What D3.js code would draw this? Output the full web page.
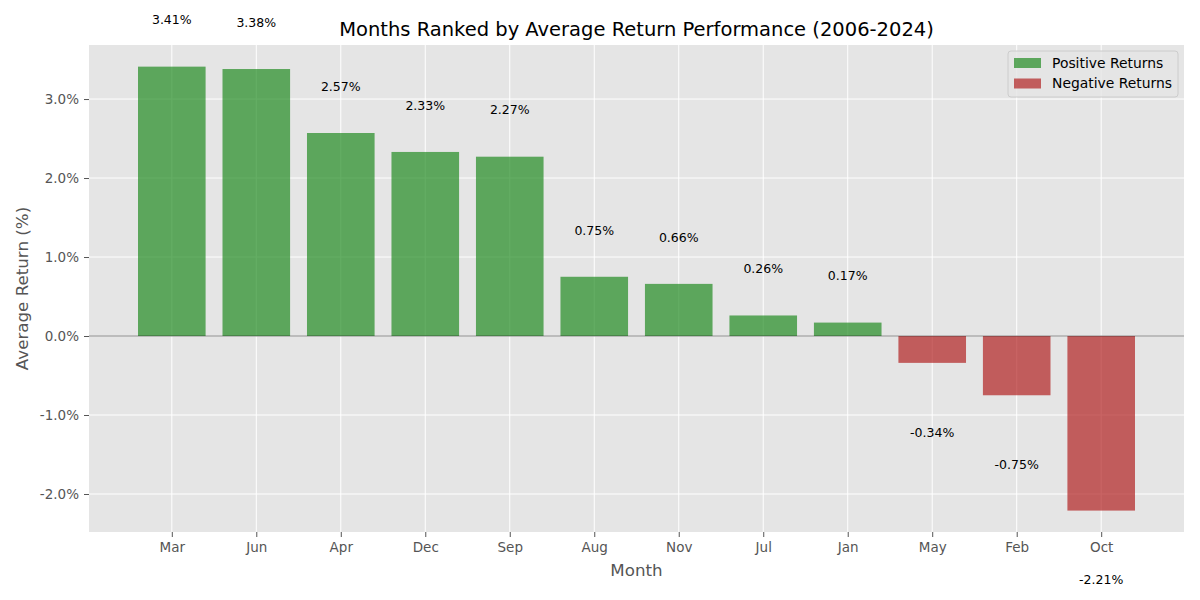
<!DOCTYPE html>
<html><head><meta charset="utf-8">
<script src="https://cdn.jsdelivr.net/npm/d3@7"></script>
<style>body{margin:0;background:#fff;} text{font-family:"DejaVu Sans",sans-serif;}</style>
</head><body>
<svg id="c" width="1200" height="600"></svg>
<script>
const months = ["Mar","Jun","Apr","Dec","Sep","Aug","Nov","Jul","Jan","May","Feb","Oct"];
const returns = [3.41,3.38,2.57,2.33,2.27,0.75,0.66,0.26,0.17,-0.34,-0.75,-2.21];
const yTicks = [-2,-1,0,1,2,3];
const legendLabels = ["Positive Returns","Negative Returns"];

const svg = d3.select("#c");
const L=89, R=1184, T=45, B=532;
const x = d3.scaleLinear().domain([-0.98, 11.98]).range([L,R]);
const y = d3.scaleLinear().domain([-2.481, 3.684]).range([B,T]);
const step = x(1)-x(0);
const bw = step*0.8;
const posCol="forestgreen", negCol="firebrick";

svg.append("rect").attr("x",L).attr("y",T).attr("width",R-L).attr("height",B-T).attr("fill","#e5e5e5");
// grid
svg.append("g").selectAll("line").data(yTicks).join("line")
  .attr("x1",L).attr("x2",R).attr("y1",d=>y(d)).attr("y2",d=>y(d)).attr("stroke","#fff").attr("stroke-width",1);
svg.append("g").selectAll("line").data(months).join("line")
  .attr("x1",(d,i)=>x(i)).attr("x2",(d,i)=>x(i)).attr("y1",T).attr("y2",B).attr("stroke","#fff").attr("stroke-width",1);
// bars
svg.append("g").selectAll("rect").data(returns).join("rect")
  .attr("x",(d,i)=>x(i)-bw/2).attr("width",bw)
  .attr("y",d=>y(Math.max(0,d))).attr("height",d=>Math.abs(y(d)-y(0)))
  .attr("fill",d=>d>=0?posCol:negCol).attr("fill-opacity",0.7);
// zero line
svg.append("line").attr("x1",L).attr("x2",R).attr("y1",y(0)).attr("y2",y(0))
  .attr("stroke","#000").attr("stroke-opacity",0.3).attr("stroke-width",1.5);
// value labels
svg.append("g").selectAll("text").data(returns).join("text")
  .attr("x",(d,i)=>x(i)).attr("y",d=>y(d>=0? d+0.59 : d-0.877)).attr("dy","0.35em")
  .attr("text-anchor","middle").attr("font-size","12.5px").attr("fill","#000")
  .text(d=>d.toFixed(2)+"%");
// axes
const xa = svg.append("g").attr("transform",`translate(0,${B})`)
  .call(d3.axisBottom(x).tickValues(d3.range(months.length)).tickFormat(i=>months[i]).tickSize(5).tickPadding(5));
const ya = svg.append("g").attr("transform",`translate(${L},0)`)
  .call(d3.axisLeft(y).tickValues(yTicks).tickFormat(d=>d.toFixed(1)+"%").tickSize(5).tickPadding(5));
[xa,ya].forEach(a=>{a.select(".domain").remove();a.selectAll("line").attr("stroke","#555");
  a.selectAll("text").attr("fill","#555").attr("font-size","13.5px").attr("font-family","DejaVu Sans");});
// title & labels
svg.append("text").attr("x",(L+R)/2).attr("y",36).attr("text-anchor","middle").attr("font-size","19.5px").attr("fill","#000")
  .text("Months Ranked by Average Return Performance (2006-2024)");
svg.append("text").attr("x",(L+R)/2).attr("y",576).attr("text-anchor","middle").attr("font-size","16.7px").attr("fill","#555").text("Month");
svg.append("text").attr("transform",`translate(28,${(T+B)/2}) rotate(-90)`).attr("text-anchor","middle").attr("font-size","16.7px").attr("fill","#555").text("Average Return (%)");
// legend
const lg = svg.append("g");
lg.append("rect").attr("x",1008).attr("y",51).attr("width",170).attr("height",46).attr("rx",3)
  .attr("fill","#e5e5e5").attr("fill-opacity",0.8).attr("stroke","#ccc");
[posCol,negCol].forEach((c,i)=>{
  lg.append("rect").attr("x",1014).attr("y",58+i*20.5).attr("width",27).attr("height",10).attr("fill",c).attr("fill-opacity",0.7);
  lg.append("text").attr("x",1052).attr("y",63+i*20.5).attr("dy","0.35em").attr("font-size","13.9px").attr("fill","#000").text(legendLabels[i]);
});
</script>
</body></html>
